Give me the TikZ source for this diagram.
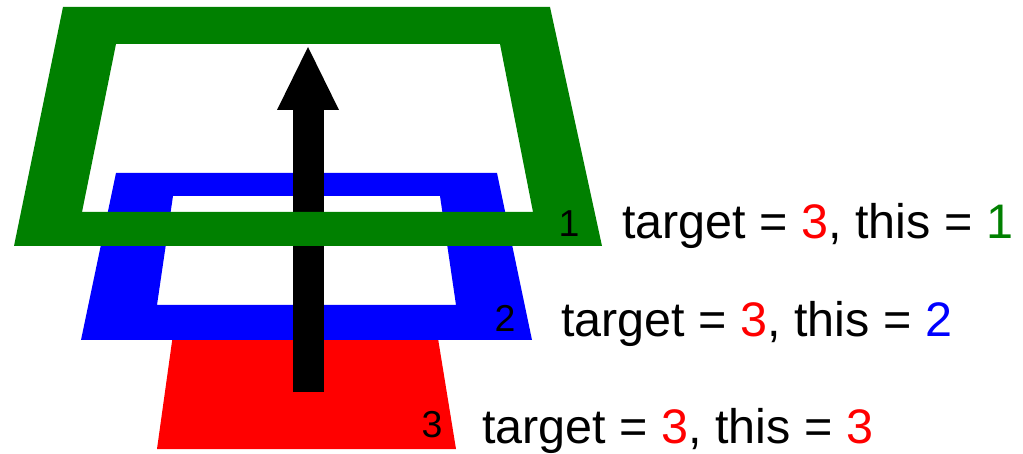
\documentclass[tikz,border=0pt]{standalone}
\usepackage{fontspec}
\setmainfont{Liberation Sans}
\usepackage{xcolor}
\usepackage{tikz}
\usetikzlibrary{arrows.meta}
\definecolor{layergreen}{RGB}{0,128,0}
\definecolor{layerblue}{RGB}{0,0,255}
\definecolor{layerred}{RGB}{255,0,0}
\tikzset{
  layerno/.style={font=\fontsize{37.5}{42}\selectfont, inner sep=0pt, anchor=base},
  caption/.style={font=\fontsize{48.5}{56}\selectfont, inner sep=0pt, anchor=base west},
}

\begin{document}
\begin{tikzpicture}[x=1pt, y=-1pt]
    \useasboundingbox (0,0) rectangle (1023,454);
    % layer 3 (solid), layer 2 and layer 1 (frames)
    \fill[layerred] (175,320) -- (435,320) -- (456,449) -- (157,449) -- cycle;
    \fill[layerblue, even odd rule] (116,173) -- (497,173) -- (532,340) -- (81,340) -- cycle
        (173,196) -- (440,196) -- (456,305) -- (157,305) -- cycle;
    \coordinate (tail) at (308,392);
    \coordinate (tip) at (308,47);
    \draw[line width=31pt, -{Triangle[length=63pt, width=62pt, line width=0pt]}] (tail) -- (tip);
    \fill[layergreen, even odd rule] (63,7) -- (550,7) -- (602,246) -- (14,246) -- cycle
        (116,44) -- (500,44) -- (533,212) -- (82,212) -- cycle;
    \node[layerno] (n1) at (569,237) {1};
    \node[layerno] (n2) at (505,332) {2};
    \node[layerno] (n3) at (432,437) {3};
    \node[caption] (t1) at (622,239) {target = \textcolor{layerred}{3}, this = \textcolor{layergreen}{1}};
    \node[caption] (t2) at (561,337) {target = \textcolor{layerred}{3}, this = \textcolor{layerblue}{2}};
    \node[caption] (t3) at (482,443) {target = \textcolor{layerred}{3}, this = \textcolor{layerred}{3}};
\end{tikzpicture}
\end{document}
